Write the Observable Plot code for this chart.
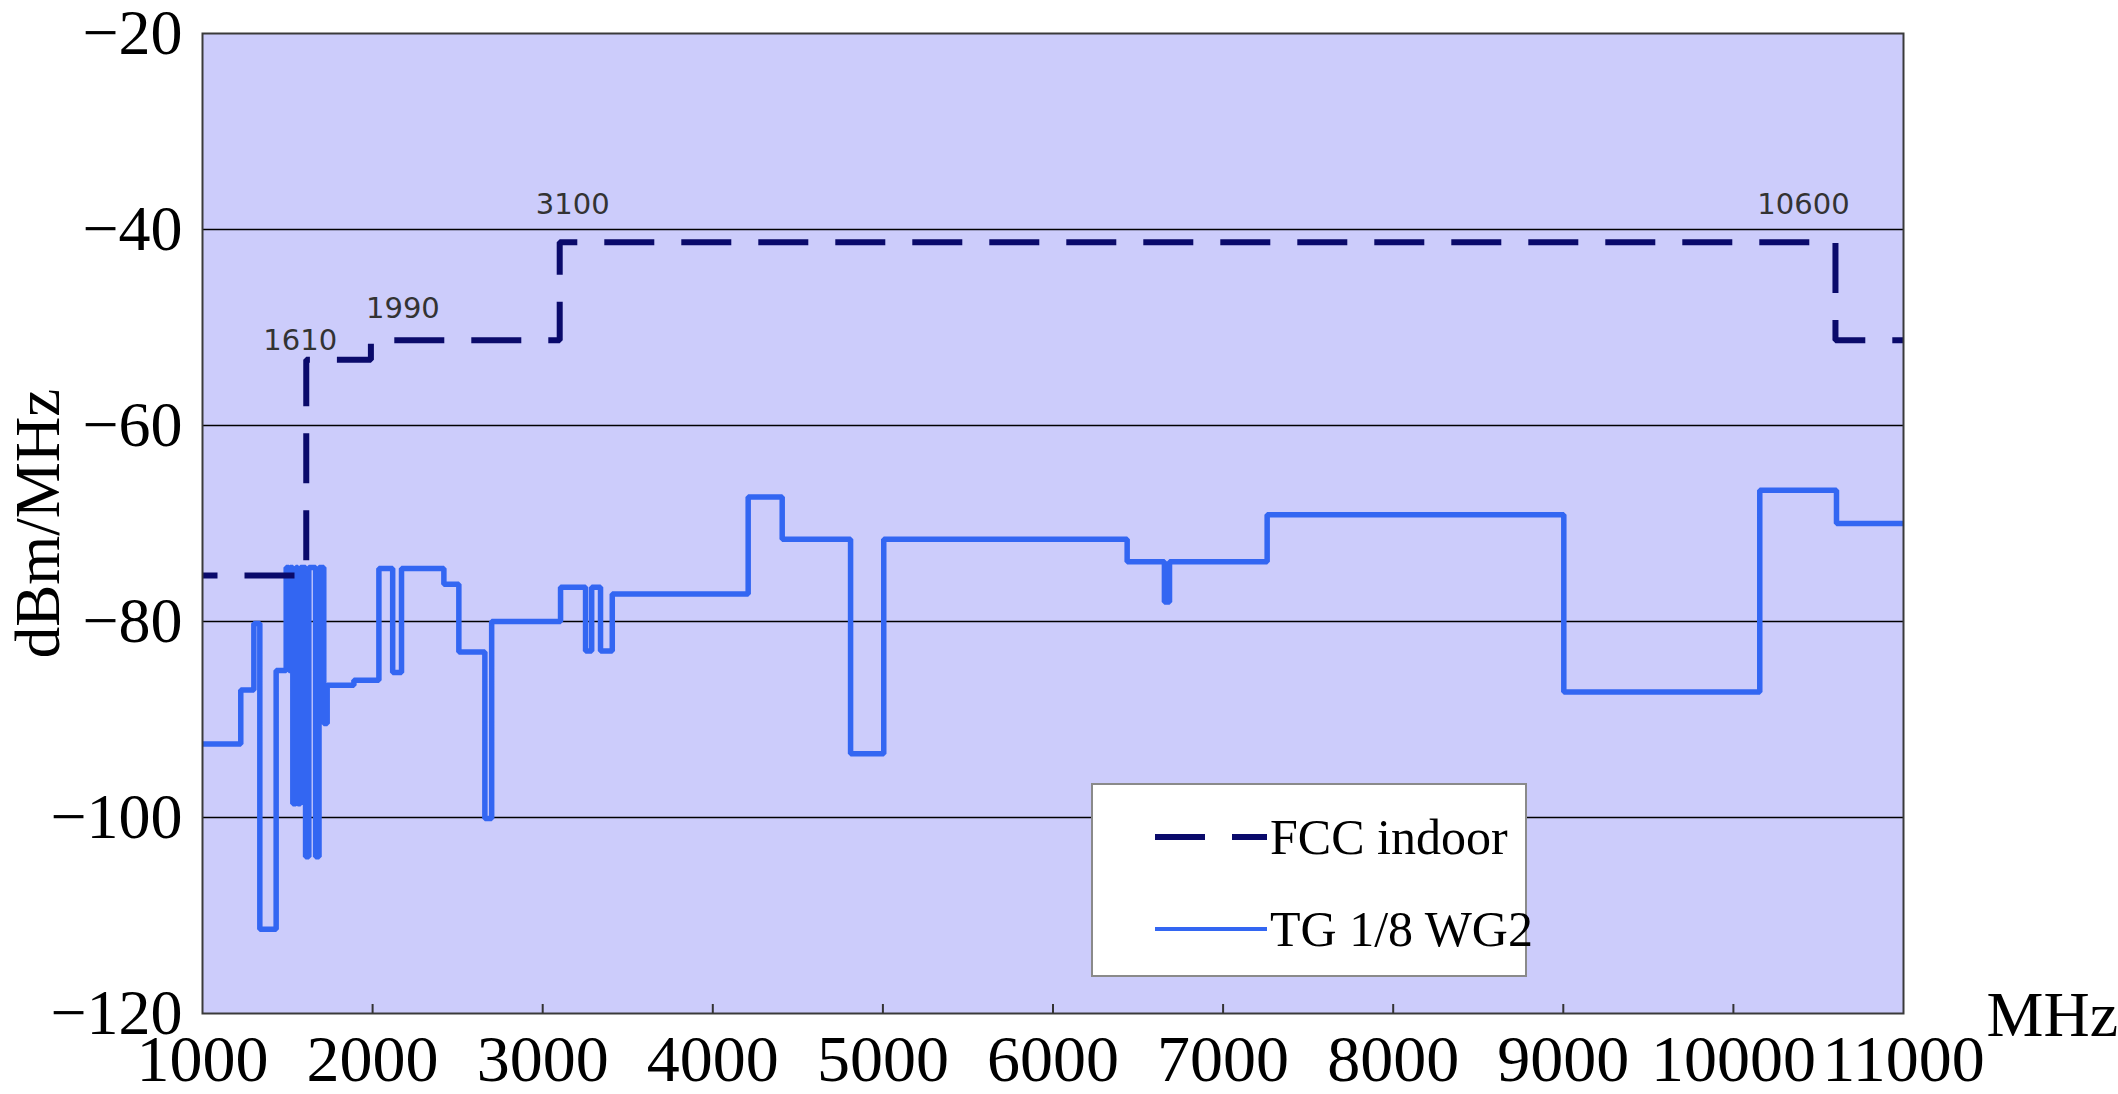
<!DOCTYPE html>
<html><head><meta charset="utf-8">
<script src="https://cdn.jsdelivr.net/npm/d3@7"></script>
<script src="https://cdn.jsdelivr.net/npm/@observablehq/plot@0.6"></script>
<style>
html,body{margin:0;padding:0;background:#fff;}
#wrap{position:relative;width:2118px;height:1094px;}
#legend{position:absolute;left:1091px;top:783px;width:436px;height:194px;background:#fff;border:2px solid #8a8a8a;box-sizing:border-box;font-family:"Liberation Serif",serif;font-size:50px;color:#000;}
#legend .row{position:absolute;left:0;height:60px;display:flex;align-items:center;white-space:nowrap;}
#legend svg{display:block;flex:none;}
</style></head><body><div id="wrap"></div>
<script>
// ---- data ----
const xTicks = [1000, 2000, 3000, 4000, 5000, 6000, 7000, 8000, 9000, 10000, 11000];
const yTicks = [-120, -100, -80, -60, -40, -20];
const gridLevels = [-100, -80, -60, -40];
const seriesNames = ["FCC indoor", "TG 1/8 WG2"];

// FCC indoor mask (step-after)
const fccFreq  = [1000, 1610, 1990, 3100, 10600, 11000];
const fccLevel = [-75.3, -53.3, -51.3, -41.3, -51.3, -51.3];

// TG 1/8 WG2 (step-after)
const tgFreq = [1000, 1225, 1302, 1337, 1433, 1492, 1508, 1515, 1531, 1549, 1560, 1576,
  1606, 1625, 1665, 1685, 1713, 1733, 1890, 2037, 2118, 2170, 2419, 2507, 2660, 2700,
  3105, 3252, 3288, 3340, 3409, 4208, 4408, 4810, 5005, 6436, 6655, 6685, 7259, 9003,
  10155, 10606, 11000];
const tgLevel = [-92.5, -87.0, -80.2, -111.4, -85.0, -74.5, -85.0, -74.5, -98.6, -74.5, -98.6, -74.5,
  -104.0, -74.5, -104.0, -74.5, -90.4, -86.5, -86.0, -74.6, -85.2, -74.6, -76.2, -83.1, -100.1, -80.0,
  -76.5, -83.0, -76.5, -83.0, -77.2, -67.3, -71.6, -93.5, -71.6, -73.9, -78.0, -73.9, -69.1, -87.2,
  -66.6, -70.0, -70.0];

// band edge annotations
const bandEdges = [1610, 1990, 3100, 10600];
const bandLabels = ["1610", "1990", "3100", "10600"];

// ---- styles ----
const colFcc = "#0a0a6b";
const colTg = "#3366f2";
const labelDx = [-6, 32, 13, -32];
const labelDy = [-10, -22, -28, -28];

const fcc = fccFreq.map((f, i) => ({f, v: fccLevel[i]}));
const tg = tgFreq.map((f, i) => ({f, v: tgLevel[i]}));
const bandData = bandEdges.map((e, i) => {
  const k = fccFreq.indexOf(e);
  return {f: e, v: Math.max(fccLevel[k - 1], fccLevel[k]), label: bandLabels[i]};
});

const chart = Plot.plot({
  width: 2118, height: 1094,
  marginLeft: 202, marginRight: 215, marginTop: 33, marginBottom: 81,
  x: {domain: [1000, 11000]},
  y: {domain: [-120, -20]},
  style: {fontFamily: "'Liberation Serif', serif", background: "#fff", overflow: "visible"},
  marks: [
    Plot.frame({fill: "#ccccfb", stroke: null}),
    Plot.ruleY(gridLevels, {stroke: "#000", strokeWidth: 1.6}),
    Plot.ruleX(xTicks.slice(1, -1), {insetTop: 971, stroke: "#333", strokeWidth: 2}),
    Plot.axisX(xTicks, {tickSize: 0, tickPadding: 21, fontSize: 66, tickFormat: d3.format("d"), label: null}),
    Plot.axisY(yTicks, {tickSize: 0, tickPadding: 20, fontSize: 64, tickFormat: d3.format("d"), label: null}),
    Plot.line(tg, {x: "f", y: "v", curve: "step-after", stroke: colTg, strokeWidth: 5.5, strokeLinejoin: "miter", strokeLinecap: "butt"}),
    Plot.line(fcc, {x: "f", y: "v", curve: "step-after", stroke: colFcc, strokeWidth: 6, strokeDasharray: "50,27", strokeDashoffset: 35, strokeLinejoin: "miter", strokeLinecap: "butt"}),
    ...bandData.map((d, i) => Plot.text([d], {x: "f", y: "v", text: "label", dx: labelDx[i], dy: labelDy[i],
      lineAnchor: "bottom", textAnchor: "middle", fontFamily: "'DejaVu Sans', sans-serif", fontSize: 29, fill: "#333"})),
    Plot.frame({stroke: "#3a3a3a", strokeWidth: 2}),
    Plot.text(["dBm/MHz"], {frameAnchor: "left", rotate: -90, dx: -164, textAnchor: "middle", lineAnchor: "middle", fontSize: 63, fill: "#000"}),
    Plot.text(["MHz"], {frameAnchor: "bottom-right", dx: 83, dy: 22, textAnchor: "start", lineAnchor: "bottom", fontSize: 64, fill: "#000"})
  ]
});

const wrap = document.getElementById("wrap");
wrap.appendChild(chart);

// legend overlay
const legend = document.createElement("div");
legend.id = "legend";
const rows = [
  {name: seriesNames[0], color: colFcc, dash: "50,27", top: 22},
  {name: seriesNames[1], color: colTg, dash: null, top: 114}
];
rows.forEach(r => {
  const row = document.createElement("div");
  row.className = "row";
  row.style.top = r.top + "px";
  const svg = d3.create("svg").attr("width", 177).attr("height", 60);
  svg.append("line").attr("x1", 62).attr("x2", 174).attr("y1", 30).attr("y2", 30)
    .attr("stroke", r.color).attr("stroke-width", r.dash ? 6 : 4)
    .attr("stroke-dasharray", r.dash);
  row.appendChild(svg.node());
  const span = document.createElement("span");
  span.textContent = r.name;
  row.appendChild(span);
  legend.appendChild(row);
});
wrap.appendChild(legend);
</script>
</body></html>
